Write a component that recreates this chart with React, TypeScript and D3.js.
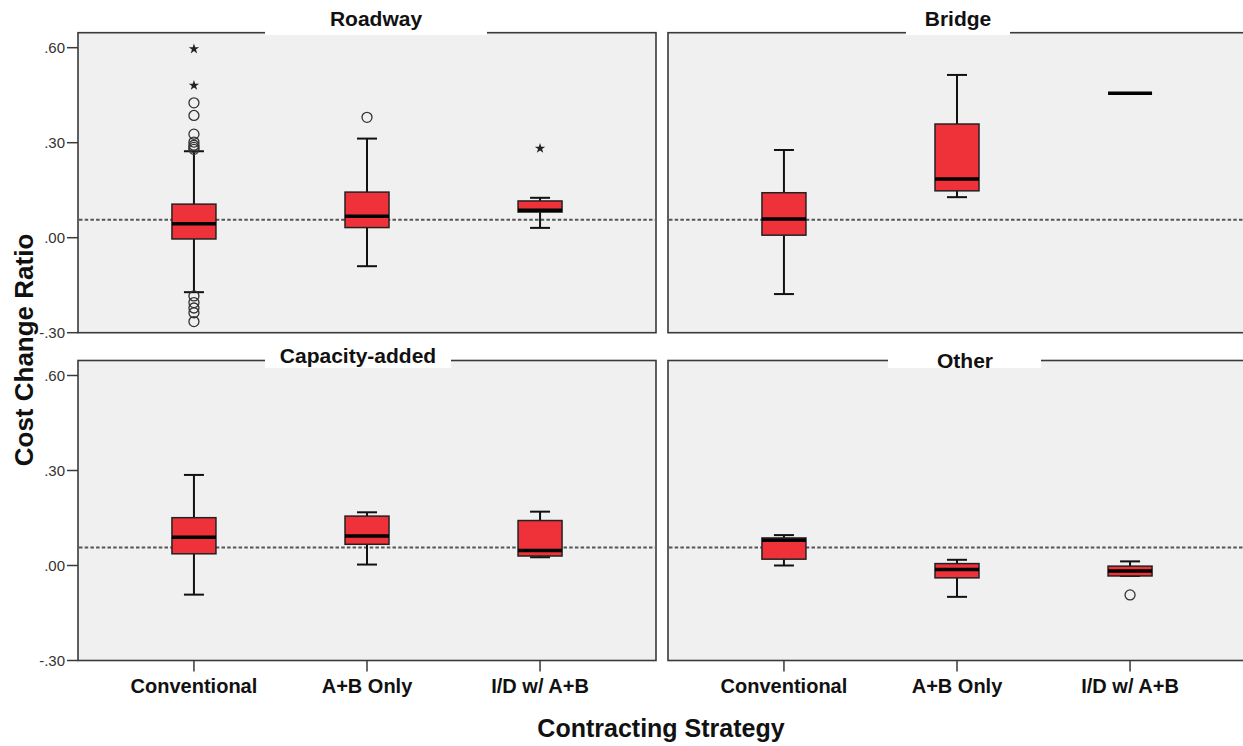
import React from "react";
import * as d3 from "d3";

// ---------- data ----------
const categories = ["Conventional", "A+B Only", "I/D w/ A+B"];
const panelTitles = ["Roadway", "Bridge", "Capacity-added", "Other"];
const yTicks = [-0.3, 0, 0.3, 0.6];
const referenceValue = 0.057;

// [whiskerLow, q1, median, q3, whiskerHigh] per category
const roadwayStats = [
  [-0.172, -0.004, 0.044, 0.106, 0.273],
  [-0.09, 0.032, 0.068, 0.144, 0.313],
  [0.031, 0.081, 0.087, 0.116, 0.126],
];
const bridgeStats = [
  [-0.178, 0.008, 0.059, 0.142, 0.277],
  [0.128, 0.148, 0.185, 0.359, 0.514],
  [0.456, 0.456, 0.456, 0.456, 0.456],
];
const capacityStats = [
  [-0.092, 0.037, 0.089, 0.151, 0.286],
  [0.003, 0.067, 0.093, 0.156, 0.168],
  [0.026, 0.03, 0.047, 0.142, 0.17],
];
const otherStats = [
  [0.0, 0.02, 0.08, 0.087, 0.096],
  [-0.099, -0.039, -0.013, 0.006, 0.018],
  [-0.033, -0.033, -0.017, -0.002, 0.013],
];

// outliers (circles) per category
const roadwayOutliers = [
  [0.426, 0.386, 0.327, 0.302, 0.292, 0.285, 0.279, -0.184, -0.205, -0.222, -0.237, -0.265],
  [0.38],
  [],
];
const bridgeOutliers = [[], [], []];
const capacityOutliers = [[], [], []];
const otherOutliers = [[], [], [-0.093]];

// extremes (stars) per category
const roadwayExtremes = [[0.596, 0.481], [], [0.282]];
const bridgeExtremes = [[], [], []];
const capacityExtremes = [[], [], []];
const otherExtremes = [[], [], []];

const panelStats = [roadwayStats, bridgeStats, capacityStats, otherStats];
const panelOutliers = [roadwayOutliers, bridgeOutliers, capacityOutliers, otherOutliers];
const panelExtremes = [roadwayExtremes, bridgeExtremes, capacityExtremes, otherExtremes];

// ---------- layout ----------
const W = 1243;
const H = 746;
const FONT = "'Liberation Sans', Arial, Helvetica, sans-serif";
const panelW = 578;
const colX = [78, 668];
const rowBottom = [332.7, 660.5];
const panelH = 300;
const yPix = 285; // pixels for -0.30 .. 0.60
const boxW = 44;
const capW = 20;
const RED = "#ef3239";
const BG = "#f0f0f0";
const BORDER = "#3a3a3a";

// title box layout per panel: [textCenterX, baselineY, boxX0, boxX1, boxBottom]
const titleLayout = [
  [376, 26, 265, 487, 35],
  [958, 26, 906, 1010, 35],
  [358, 363, 265, 451, 368],
  [965, 368, 888, 1041, 368],
];

const star = d3.symbol().type(d3.symbolStar).size(34)();
const fmt = (v: number) => {
  const s = Math.abs(v).toFixed(2).replace(/^0\./, ".");
  return (v < 0 ? "-" : "") + s;
};

function Panel({ idx }: { idx: number }) {
  const row = Math.floor(idx / 2);
  const col = idx % 2;
  const x0 = colX[col];
  const bottom = rowBottom[row];
  const top = bottom - panelH;
  const x = d3
    .scalePoint<string>()
    .domain(categories)
    .range([x0, x0 + panelW])
    .padding(0.67);
  const y = d3.scaleLinear().domain([-0.3, 0.6]).range([bottom, bottom - yPix]);
  const stats = panelStats[idx];
  const outs = panelOutliers[idx];
  const exts = panelExtremes[idx];
  const [tcx, tby, bx0, bx1, bby] = titleLayout[idx];

  return (
    <g>
      <rect x={x0} y={top} width={panelW} height={panelH} fill={BG} stroke={BORDER} strokeWidth={1.6} />
      <rect x={bx0} y={top - 14} width={bx1 - bx0} height={bby - (top - 14)} fill="#ffffff" />
      <text
        x={tcx}
        y={tby}
        textAnchor="middle"
        fontFamily={FONT}
        fontWeight="bold"
        fontSize={21}
        fill="#111"
      >
        {panelTitles[idx]}
      </text>
      <line
        x1={x0 + 1}
        x2={x0 + panelW - 1}
        y1={y(referenceValue)}
        y2={y(referenceValue)}
        stroke="#555"
        strokeWidth={2}
        strokeDasharray="3.5,2.2"
      />
      {categories.map((c, i) => {
        const cx = x(c)!;
        const [wl, q1, md, q3, wh] = stats[i];
        const single = q1 === q3;
        return (
          <g key={c}>
            {!single && (
              <g stroke="#111" strokeWidth={2}>
                <line x1={cx} x2={cx} y1={y(q3)} y2={y(wh)} />
                <line x1={cx} x2={cx} y1={y(q1)} y2={y(wl)} />
                <line x1={cx - capW / 2} x2={cx + capW / 2} y1={y(wh)} y2={y(wh)} />
                <line x1={cx - capW / 2} x2={cx + capW / 2} y1={y(wl)} y2={y(wl)} />
              </g>
            )}
            {!single && (
              <rect
                x={cx - boxW / 2}
                y={y(q3)}
                width={boxW}
                height={y(q1) - y(q3)}
                fill={RED}
                stroke="#222"
                strokeWidth={1.5}
              />
            )}
            <line
              x1={cx - boxW / 2}
              x2={cx + boxW / 2}
              y1={y(md)}
              y2={y(md)}
              stroke="#000"
              strokeWidth={3.5}
            />
            {outs[i].map((v, k) => (
              <circle key={k} cx={cx} cy={y(v)} r={5} fill="none" stroke="#333" strokeWidth={1.3} />
            ))}
            {exts[i].map((v, k) => (
              <path key={k} d={star!} transform={`translate(${cx},${y(v)})`} fill="#222" />
            ))}
          </g>
        );
      })}
      {col === 0 &&
        yTicks.map((t) => (
          <g key={t}>
            <line x1={x0 - 11} x2={x0} y1={y(t)} y2={y(t)} stroke={BORDER} strokeWidth={1.5} />
            <text
              x={x0 - 13}
              y={y(t)}
              dy="0.35em"
              textAnchor="end"
              fontFamily={FONT}
              fontSize={15}
              fill="#333"
            >
              {fmt(t)}
            </text>
          </g>
        ))}
      {row === 1 &&
        categories.map((c) => (
          <g key={c}>
            <line x1={x(c)} x2={x(c)} y1={bottom} y2={bottom + 11} stroke={BORDER} strokeWidth={1.5} />
            <text
              x={x(c)}
              y={bottom + 32}
              textAnchor="middle"
              fontFamily={FONT}
              fontWeight="bold"
              fontSize={20}
              fill="#111"
            >
              {c}
            </text>
          </g>
        ))}
    </g>
  );
}

export default function App() {
  return (
    <svg
      width={W}
      height={H}
      viewBox={`0 0 ${W} ${H}`}
      style={{ position: "absolute", left: 0, top: 0, background: "#fff" }}
    >
      <rect x={0} y={0} width={W} height={H} fill="#fff" />
      {[0, 1, 2, 3].map((i) => (
        <Panel key={i} idx={i} />
      ))}
      <text
        transform="translate(33,350) rotate(-90)"
        textAnchor="middle"
        fontFamily={FONT}
        fontWeight="bold"
        fontSize={26}
        fill="#111"
      >
        Cost Change Ratio
      </text>
      <text
        x={661}
        y={737}
        textAnchor="middle"
        fontFamily={FONT}
        fontWeight="bold"
        fontSize={25}
        fill="#111"
      >
        Contracting Strategy
      </text>
    </svg>
  );
}
